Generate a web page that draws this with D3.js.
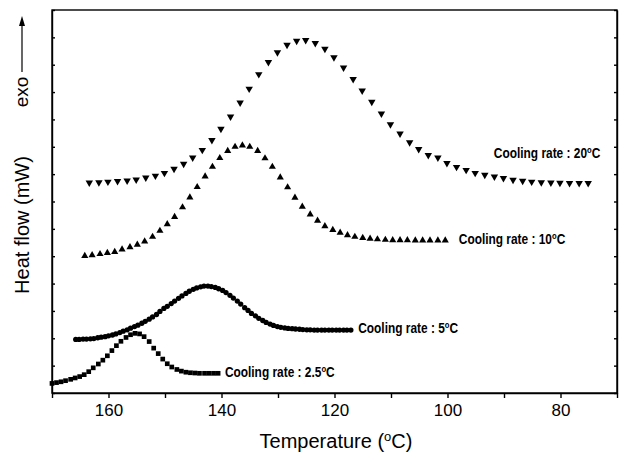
<!DOCTYPE html>
<meta charset="utf-8">
<script src="https://cdn.jsdelivr.net/npm/d3@7"></script>
<style>
body { margin: 0; background: #fff; }
text { font-family: Arial, "Liberation Sans", sans-serif; fill: #000; }
.tick text { font-size: 17px; }
.lbl { font-family: "Liberation Sans Narrow", "Arial Narrow", "Liberation Sans", Arial, sans-serif; font-weight: bold; font-size: 14px; }
.axis path, .axis line { stroke: #000; stroke-width: 1.4px; }
</style>
<body>
<script>
// cooling rate 20 C (down triangles)
var temp20 = [163.4,161.7,160.1,158.4,156.7,155.1,153.4,151.7,150.1,148.4,146.7,145.1,143.4,141.7,140.1,138.4,136.7,135.1,133.4,131.7,130.1,128.4,126.7,125.1,123.4,121.7,120.1,118.4,116.7,115.1,113.4,111.7,110.1,108.4,106.7,105.1,103.4,101.7,100.1,98.4,96.7,95.1,93.4,91.7,90.1,88.4,86.7,85.1,83.4,81.7,80.1,78.4,76.7,75.1];
var flow20 = [7.69,7.70,7.72,7.74,7.76,7.80,7.87,7.94,8.04,8.19,8.37,8.60,8.88,9.24,9.65,10.10,10.61,11.12,11.65,12.09,12.45,12.72,12.87,12.90,12.79,12.58,12.27,11.89,11.47,11.05,10.64,10.21,9.82,9.48,9.16,8.91,8.69,8.60,8.40,8.26,8.15,8.04,7.97,7.91,7.85,7.79,7.75,7.72,7.70,7.69,7.68,7.67,7.67,7.67];

// cooling rate 10 C (up triangles)
var temp10 = [164.2,162.9,161.5,160.2,158.9,157.6,156.2,154.9,153.6,152.2,150.9,149.6,148.3,146.9,145.6,144.3,142.9,141.6,140.3,138.9,137.6,136.3,135.0,133.6,132.3,131.0,129.6,128.3,127.0,125.7,124.3,123.0,121.7,120.3,119.0,117.7,116.4,115.0,113.7,112.4,111.0,109.7,108.4,107.1,105.7,104.4,103.1,101.7,100.4];
var flow10 = [5.01,5.04,5.08,5.12,5.16,5.25,5.33,5.42,5.54,5.71,5.93,6.17,6.44,6.79,7.15,7.53,7.92,8.27,8.59,8.85,9.00,9.05,9.00,8.85,8.58,8.27,7.88,7.52,7.14,6.81,6.53,6.30,6.10,5.96,5.86,5.77,5.71,5.67,5.64,5.62,5.60,5.59,5.59,5.59,5.58,5.58,5.58,5.58,5.58];

// cooling rate 5 C (circles)
var temp5 = [165.8,165.2,164.5,163.9,163.2,162.6,161.9,161.3,160.6,160.0,159.3,158.7,158.0,157.4,156.7,156.1,155.4,154.8,154.1,153.5,152.8,152.2,151.5,150.9,150.2,149.6,148.9,148.3,147.6,147.0,146.3,145.7,145.0,144.4,143.7,143.1,142.4,141.8,141.1,140.5,139.8,139.2,138.5,137.9,137.2,136.6,135.9,135.3,134.7,134.0,133.4,132.7,132.1,131.4,130.8,130.1,129.5,128.8,128.2,127.5,126.9,126.2,125.6,124.9,124.3,123.6,123.0,122.3,121.7,121.0,120.4,119.7,119.1,118.4,117.8,117.1];
var flow5 = [1.96,1.96,1.97,1.97,1.98,1.99,2.02,2.04,2.06,2.09,2.12,2.16,2.21,2.26,2.31,2.37,2.43,2.48,2.55,2.62,2.70,2.78,2.87,2.98,3.09,3.17,3.27,3.36,3.46,3.55,3.64,3.72,3.79,3.84,3.88,3.91,3.91,3.89,3.86,3.81,3.75,3.67,3.57,3.47,3.36,3.25,3.12,3.02,2.91,2.82,2.73,2.65,2.58,2.52,2.47,2.43,2.40,2.38,2.36,2.35,2.34,2.33,2.32,2.31,2.31,2.30,2.30,2.30,2.30,2.30,2.30,2.30,2.30,2.30,2.30,2.30];

// cooling rate 2.5 C (squares)
var temp25 = [170.0,169.2,168.4,167.6,166.7,165.9,165.1,164.3,163.5,162.7,161.8,161.0,160.2,159.4,158.6,157.8,156.9,156.1,155.3,154.5,153.7,152.8,152.0,151.2,150.4,149.6,148.8,147.9,147.1,146.3,145.5,144.7,143.9,143.0,142.2,141.4,140.6];
var flow25 = [0.35,0.38,0.41,0.45,0.50,0.55,0.60,0.67,0.78,0.92,1.06,1.20,1.36,1.55,1.73,1.89,2.03,2.13,2.18,2.16,2.06,1.88,1.64,1.44,1.24,1.07,0.95,0.86,0.80,0.76,0.74,0.73,0.72,0.72,0.72,0.72,0.72];

var rateLabels = ["20", "10", "5", "2.5"];
var labelTemp = [91.8, 98.0, 115.8, 139.4];
var labelFlow = [8.77, 5.63, 2.38, 0.77];

var xTicks = [170, 160, 150, 140, 130, 120, 110, 100, 90, 80, 70];
var yTicks = d3.range(0, 15);

var width = 620, height = 460;
var x = d3.scaleLinear().domain([170, 70]).range([52, 617]);
var y = d3.scaleLinear().domain([0, 14]).range([393, 10]);

var svg = d3.select("body").append("svg")
    .attr("width", width)
    .attr("height", height);

// frame
svg.append("rect")
    .attr("x", x(170)).attr("y", y(14))
    .attr("width", x(70) - x(170)).attr("height", y(0) - y(14))
    .attr("fill", "none").attr("stroke", "#000").attr("stroke-width", 1.4);

svg.append("g")
    .attr("class", "axis")
    .attr("transform", "translate(0," + y(0) + ")")
    .call(d3.axisBottom(x).tickValues(xTicks).tickSize(5).tickSizeOuter(0)
      .tickFormat(function(d) { return d % 20 === 0 ? d : ""; }))
    .selectAll(".tick text").attr("dy", "0.9em");

svg.append("g")
    .attr("class", "axis")
    .attr("transform", "translate(" + x(170) + ",0)")
    .call(d3.axisLeft(y).tickValues(yTicks).tickSize(-3).tickSizeOuter(0).tickFormat(""));

svg.append("g")
    .attr("class", "axis")
    .attr("transform", "translate(" + x(70) + ",0)")
    .call(d3.axisRight(y).tickValues(yTicks).tickSize(-3).tickSizeOuter(0).tickFormat(""));

// series
var series = [
  {t: temp20, f: flow20, sym: d3.symbolTriangle, size: 24, rot: 180},
  {t: temp10, f: flow10, sym: d3.symbolTriangle, size: 22, rot: 0},
  {t: temp5, f: flow5, sym: d3.symbolCircle, size: 22, rot: 0},
  {t: temp25, f: flow25, sym: d3.symbolSquare, size: 22, rot: 0}
];

series.forEach(function(s) {
  var pts = s.t.map(function(t, i) { return [t, s.f[i]]; });
  svg.append("g")
    .selectAll("path")
    .data(pts)
    .enter().append("path")
      .attr("d", d3.symbol().type(s.sym).size(s.size))
      .attr("fill", "#000")
      .attr("transform", function(d) {
        return "translate(" + x(d[0]) + "," + y(d[1]) + ") rotate(" + s.rot + ")";
      });
});

// curve labels, squeezed sideways like a narrow bold face
rateLabels.forEach(function(r, i) {
  var t = svg.append("g")
      .attr("transform", "translate(" + x(labelTemp[i]) + "," + (y(labelFlow[i]) + 5) + ") scale(0.85,1)")
    .append("text")
      .attr("class", "lbl");
  t.append("tspan").text("Cooling rate : " + r);
  t.append("tspan").attr("dy", -5).style("font-size", "9px").text("o");
  t.append("tspan").attr("dy", 5).text("C");
});

// axis titles
var xt = svg.append("text")
    .attr("x", 336).attr("y", 448)
    .attr("text-anchor", "middle")
    .style("font-size", "20px");
xt.append("tspan").text("Temperature (");
xt.append("tspan").attr("dy", -7).style("font-size", "13px").text("o");
xt.append("tspan").attr("dy", 7).text("C)");

svg.append("text")
    .attr("transform", "translate(29,225) rotate(-90)")
    .attr("text-anchor", "middle")
    .style("font-size", "20px")
    .text("Heat flow (mW)");

svg.append("text")
    .attr("transform", "translate(28,92) rotate(-90)")
    .attr("text-anchor", "middle")
    .style("font-size", "19px")
    .text("exo");

svg.append("line")
    .attr("x1", 22).attr("x2", 22)
    .attr("y1", 72).attr("y2", 24)
    .attr("stroke", "#000").attr("stroke-width", 1.2);
svg.append("path")
    .attr("d", "M22,16L19,26L25,26Z")
    .attr("fill", "#000");
</script>
</body>
